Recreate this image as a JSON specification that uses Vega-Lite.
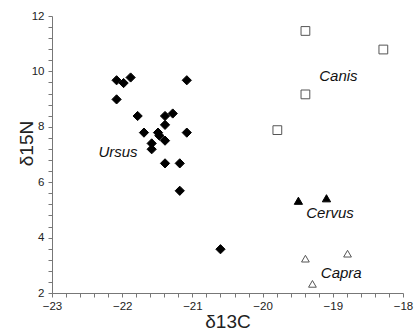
{
  "$schema": "https://vega.github.io/schema/vega-lite/v6.json",
  "width": 351,
  "height": 277,
  "autosize": "none",
  "padding": {"left": 52, "top": 16, "right": 12, "bottom": 42},
  "background": "white",
  "config": {
    "view": {"stroke": null},
    "font": "Liberation Sans",
    "axis": {
      "grid": false,
      "domainColor": "#777777",
      "tickColor": "#777777",
      "tickSize": 4,
      "labelFont": "Liberation Sans",
      "labelFontSize": 11.5,
      "labelColor": "#222222",
      "titleFont": "Liberation Sans",
      "titleFontSize": 19,
      "titleFontWeight": "normal",
      "titleColor": "#222222"
    }
  },
  "datasets": {
    "points": [
      {"species": "Ursus", "d13C": -22.08, "d15N": 9.68},
      {"species": "Ursus", "d13C": -21.98, "d15N": 9.58},
      {"species": "Ursus", "d13C": -21.88, "d15N": 9.78},
      {"species": "Ursus", "d13C": -22.08, "d15N": 8.99},
      {"species": "Ursus", "d13C": -21.08, "d15N": 9.68},
      {"species": "Ursus", "d13C": -21.78, "d15N": 8.39},
      {"species": "Ursus", "d13C": -21.39, "d15N": 8.39},
      {"species": "Ursus", "d13C": -21.28, "d15N": 8.48},
      {"species": "Ursus", "d13C": -21.39, "d15N": 8.07},
      {"species": "Ursus", "d13C": -21.69, "d15N": 7.79},
      {"species": "Ursus", "d13C": -21.49, "d15N": 7.79},
      {"species": "Ursus", "d13C": -21.47, "d15N": 7.68},
      {"species": "Ursus", "d13C": -21.08, "d15N": 7.79},
      {"species": "Ursus", "d13C": -21.58, "d15N": 7.4},
      {"species": "Ursus", "d13C": -21.58, "d15N": 7.19},
      {"species": "Ursus", "d13C": -21.39, "d15N": 7.5},
      {"species": "Ursus", "d13C": -21.39, "d15N": 6.68},
      {"species": "Ursus", "d13C": -21.18, "d15N": 6.68},
      {"species": "Ursus", "d13C": -21.18, "d15N": 5.69},
      {"species": "Ursus", "d13C": -20.6, "d15N": 3.58},
      {"species": "Canis", "d13C": -19.39, "d15N": 11.46},
      {"species": "Canis", "d13C": -18.28, "d15N": 10.79},
      {"species": "Canis", "d13C": -19.39, "d15N": 9.17},
      {"species": "Canis", "d13C": -19.79, "d15N": 7.88},
      {"species": "Cervus", "d13C": -19.49, "d15N": 5.33},
      {"species": "Cervus", "d13C": -19.09, "d15N": 5.42},
      {"species": "Capra", "d13C": -19.39, "d15N": 3.24},
      {"species": "Capra", "d13C": -18.79, "d15N": 3.42},
      {"species": "Capra", "d13C": -19.29, "d15N": 2.33}
    ],
    "labels": [
      {"name": "Canis", "d13C": -18.92, "d15N": 9.85},
      {"name": "Ursus", "d13C": -22.06, "d15N": 7.1},
      {"name": "Cervus", "d13C": -19.04, "d15N": 4.88},
      {"name": "Capra", "d13C": -18.88, "d15N": 2.74}
    ]
  },
  "encoding": {
    "x": {
      "field": "d13C",
      "type": "quantitative",
      "scale": {"domain": [-23, -18], "nice": false, "zero": false},
      "axis": {
        "title": "δ13C",
        "values": [-23, -22.8, -22.6, -22.4, -22.2, -22, -21.8, -21.6, -21.4, -21.2, -21, -20.8, -20.6, -20.4, -20.2, -20, -19.8, -19.6, -19.4, -19.2, -19, -18.8, -18.6, -18.4, -18.2, -18],
        "labelExpr": "abs(datum.value - round(datum.value)) < 0.001 ? format(datum.value, 'd') : ''",
        "labelPadding": 3,
        "labelFlush": false,
        "labelOverlap": false,
        "titleBaseline": "middle",
        "titleY": 28
      }
    },
    "y": {
      "field": "d15N",
      "type": "quantitative",
      "scale": {"domain": [2, 12], "nice": false, "zero": false},
      "axis": {
        "title": "δ15N",
        "values": [2, 2.4, 2.8, 3.2, 3.6, 4, 4.4, 4.8, 5.2, 5.6, 6, 6.4, 6.8, 7.2, 7.6, 8, 8.4, 8.8, 9.2, 9.6, 10, 10.4, 10.8, 11.2, 11.6, 12],
        "labelExpr": "abs(datum.value/2 - round(datum.value/2)) < 0.001 ? format(datum.value, 'd') : ''",
        "labelPadding": 4,
        "labelFlush": false,
        "labelOverlap": false,
        "titleAngle": -90,
        "titleBaseline": "middle",
        "titleAlign": "center",
        "titleX": -26,
        "titleY": 127
      }
    }
  },
  "layer": [
    {
      "data": {"name": "points"},
      "mark": {"type": "point", "filled": false, "strokeWidth": 1, "opacity": 1},
      "encoding": {
        "shape": {
          "field": "species",
          "type": "nominal",
          "scale": {"domain": ["Ursus", "Canis", "Cervus", "Capra"], "range": ["diamond", "square", "triangle-up", "triangle-up"]},
          "legend": null
        },
        "fill": {
          "field": "species",
          "type": "nominal",
          "scale": {"domain": ["Ursus", "Canis", "Cervus", "Capra"], "range": ["#000000", "#ffffff", "#000000", "#ffffff"]},
          "legend": null
        },
        "stroke": {
          "field": "species",
          "type": "nominal",
          "scale": {"domain": ["Ursus", "Canis", "Cervus", "Capra"], "range": ["#000000", "#555555", "#000000", "#555555"]},
          "legend": null
        },
        "size": {
          "field": "species",
          "type": "nominal",
          "scale": {"domain": ["Ursus", "Canis", "Cervus", "Capra"], "range": [85, 60, 62, 75]},
          "legend": null
        }
      }
    },
    {
      "data": {"name": "labels"},
      "mark": {"type": "text", "font": "Liberation Sans", "fontSize": 15, "fontStyle": "italic", "color": "#111111", "align": "center", "baseline": "middle"},
      "encoding": {
        "text": {"field": "name", "type": "nominal"}
      }
    }
  ]
}
